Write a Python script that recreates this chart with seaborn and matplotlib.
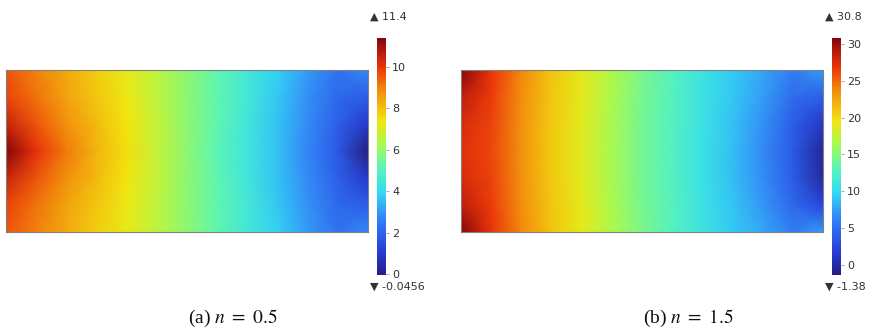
import numpy as np
import pandas as pd
import matplotlib
matplotlib.use('Agg')
import matplotlib.pyplot as plt
from matplotlib.colors import LinearSegmentedColormap
import seaborn as sns

# pressure field, 7 rows (top->bottom) x 13 columns (left->right)
field_a = [
    [9.6, 9.0, 8.4, 7.8, 7.2, 6.6, 5.9, 5.2, 4.5, 3.8, 3.0, 2.3, 2.8],
    [9.8, 9.2, 8.5, 7.9, 7.3, 6.6, 5.9, 5.2, 4.5, 3.7, 2.9, 2.1, 1.8],
    [10.5, 9.6, 8.8, 8.1, 7.4, 6.7, 5.9, 5.2, 4.4, 3.6, 2.8, 1.9, 0.9],
    [11.4, 10.1, 9.1, 8.2, 7.5, 6.7, 5.9, 5.1, 4.4, 3.6, 2.7, 1.7, -0.05],
    [10.5, 9.6, 8.8, 8.1, 7.4, 6.7, 5.9, 5.2, 4.4, 3.6, 2.8, 1.9, 0.9],
    [9.8, 9.2, 8.5, 7.9, 7.3, 6.6, 5.9, 5.2, 4.5, 3.7, 2.9, 2.1, 1.8],
    [9.6, 9.0, 8.4, 7.8, 7.2, 6.6, 5.9, 5.2, 4.5, 3.8, 3.0, 2.3, 2.8],
]
field_b = [
    [30.8, 27.0, 23.8, 21.0, 19.0, 16.6, 14.5, 12.8, 10.9, 9.3, 7.7, 5.8, 7.3],
    [28.6, 26.6, 23.6, 20.9, 18.9, 16.5, 14.4, 12.7, 10.8, 9.1, 7.3, 4.8, 4.0],
    [27.6, 26.3, 23.5, 20.8, 18.8, 16.4, 14.3, 12.6, 10.7, 8.9, 6.9, 4.0, 1.2],
    [27.2, 26.2, 23.4, 20.8, 18.8, 16.4, 14.3, 12.6, 10.6, 8.8, 6.6, 3.7, -0.4],
    [27.6, 26.3, 23.5, 20.8, 18.8, 16.4, 14.3, 12.6, 10.6, 8.8, 6.7, 3.8, -0.2],
    [28.6, 26.6, 23.6, 20.9, 18.9, 16.5, 14.4, 12.7, 10.8, 9.0, 7.1, 4.6, 2.5],
    [30.8, 27.0, 23.8, 21.0, 19.0, 16.6, 14.5, 12.8, 10.9, 9.3, 7.7, 5.9, 7.3],
]

range_a = (-0.0456, 11.4)
range_b = (-1.38, 30.8)
ticks_a = [0, 2, 4, 6, 8, 10]
ticks_b = [0, 5, 10, 15, 20, 25, 30]
max_labels = ['11.4', '30.8']
min_labels = ['-0.0456', '-1.38']
captions = ['(a) $n\\ =\\ 0.5$', '(b) $n\\ =\\ 1.5$']

# softer rainbow, close to the solver's default colour table
rainbow = LinearSegmentedColormap.from_list('rainbow_soft', [
    (0.00, (0.14, 0.12, 0.50)),
    (0.10, (0.15, 0.24, 0.85)),
    (0.24, (0.20, 0.52, 0.97)),
    (0.35, (0.20, 0.86, 0.95)),
    (0.45, (0.35, 0.96, 0.72)),
    (0.55, (0.65, 0.98, 0.32)),
    (0.65, (0.95, 0.90, 0.06)),
    (0.78, (0.95, 0.55, 0.05)),
    (0.88, (0.92, 0.20, 0.04)),
    (1.00, (0.52, 0.02, 0.05)),
])

sns.set_style('white')
plt.rcParams['font.family'] = ['DejaVu Sans']
plt.rcParams['mathtext.fontset'] = 'stix'

fig = plt.figure(figsize=(8.78, 3.35), dpi=100)

panels = [
    (field_a, range_a, ticks_a, 6),
    (field_b, range_b, ticks_b, 461),
]

for i, (field, rng, ticks, x0) in enumerate(panels):
    df = pd.DataFrame(field)
    ax = fig.add_axes([x0 / 878, (335 - 232) / 335, 362 / 878, 162 / 335])
    cx = x0 + 371
    cax = fig.add_axes([cx / 878, (335 - 275) / 335, 9 / 878, 237 / 335])

    sns.heatmap(df, ax=ax, cbar_ax=cax, cmap=rainbow, vmin=rng[0], vmax=rng[1],
                xticklabels=False, yticklabels=False, shading='gouraud',
                cbar_kws={'ticks': ticks})
    nrows, ncols = df.shape
    ax.set_xlim(0, ncols - 1)
    ax.set_ylim(nrows - 1, 0)
    for s in ax.spines.values():
        s.set_visible(True)
        s.set_color('#808080')
        s.set_linewidth(0.8)

    cax.tick_params(labelsize=8, labelcolor='#333333', length=2.5, width=0.6,
                    color='#999999', pad=2)

    # max / min markers like the solver output
    fig.text((cx - 7) / 878, 1 - 17 / 335, '\u25b2 ' + max_labels[i],
             fontsize=8, color='#333333', va='center', ha='left')
    fig.text((cx - 7) / 878, 1 - 287 / 335, '\u25bc ' + min_labels[i],
             fontsize=8, color='#333333', va='center', ha='left')

    fig.text((x0 + 227) / 878, 1 - 318 / 335, captions[i], fontsize=14,
             family='Liberation Serif', ha='center', va='center', color='#111111')

fig.savefig('out.png', dpi=100)
